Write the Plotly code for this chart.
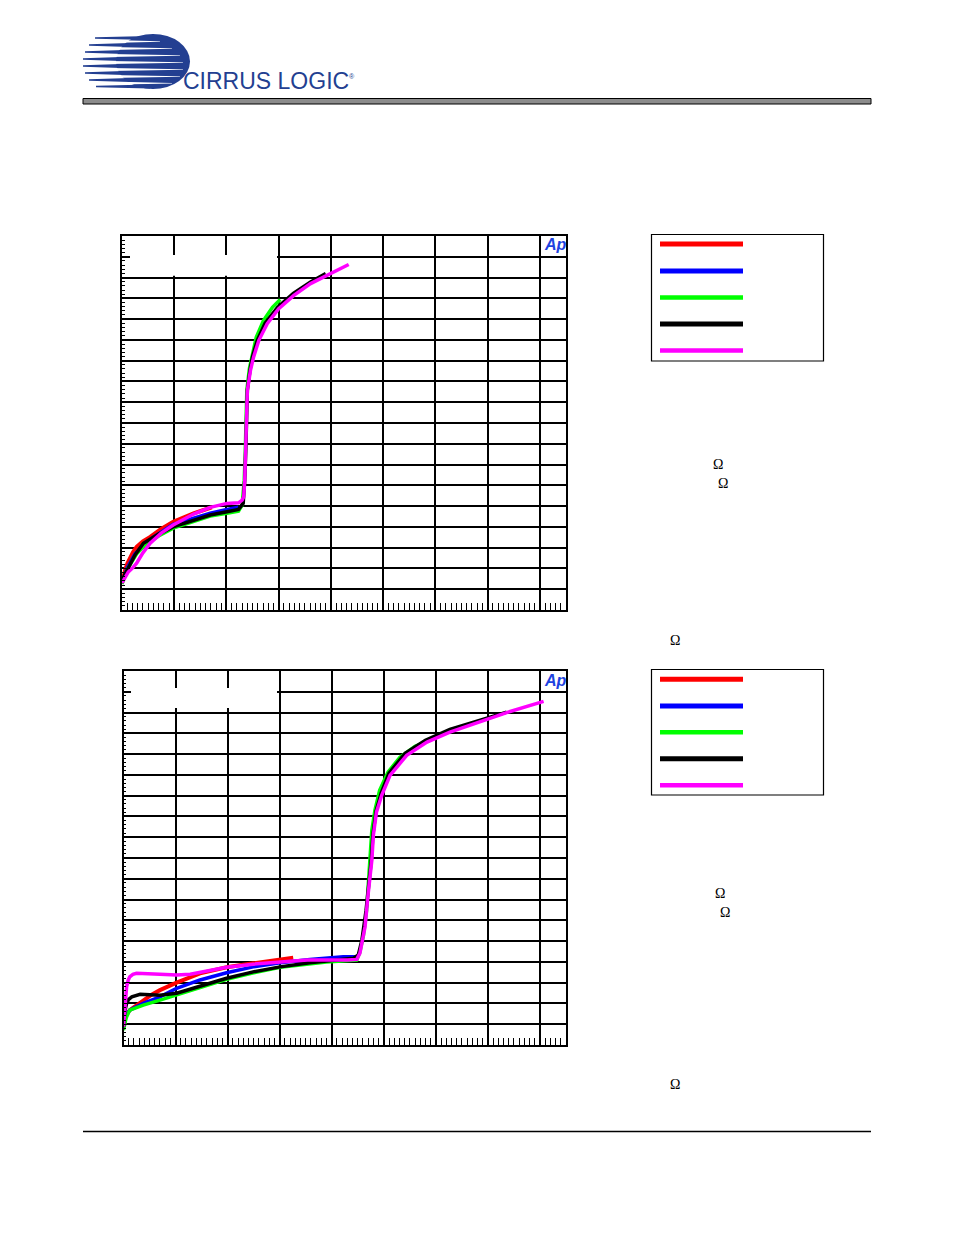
import plotly.graph_objects as go

W, H = 954, 1235

# ---------------- data (chart 1) ----------------
c1_red_x = [0, 0.03, 0.06, 0.1, 0.15, 0.21, 0.28, 0.4, 0.54, 0.75, 0.98, 1.17, 1.37, 1.55, 1.72]
c1_red_y = [1.28, 1.65, 1.92, 2.22, 2.5, 2.78, 3.04, 3.3, 3.52, 3.9, 4.25, 4.46, 4.65, 4.8, 4.94]

c1_blue_x = [0, 0.05, 0.1, 0.15, 0.25, 0.40, 0.6, 0.98, 1.35, 1.69, 2.01, 2.23]
c1_blue_y = [1.3, 1.75, 2.05, 2.26, 2.7, 3.08, 3.5, 4.12, 4.42, 4.66, 4.84, 4.95]

c1_green_x = [0, 0.05, 0.1, 0.15, 0.28, 0.44, 0.7, 0.98, 1.35, 1.69, 2.01, 2.23, 2.30, 2.34, 2.36, 2.38, 2.39, 2.44, 2.50, 2.57, 2.71, 2.88, 3.03]
c1_green_y = [1.25, 1.62, 1.95, 2.16, 2.7, 3.13, 3.56, 3.94, 4.26, 4.52, 4.65, 4.76, 5.05, 6.25, 7.69, 9.13, 10.58, 11.63, 12.4, 13.13, 13.94, 14.57, 14.94]

c1_black_x = [0, 0.05, 0.12, 0.25, 0.41, 0.7, 0.98, 1.35, 1.69, 2.01, 2.23, 2.32, 2.35, 2.37, 2.39, 2.40, 2.45, 2.50, 2.59, 2.74, 2.98, 3.28, 3.61, 3.90]
c1_black_y = [1.3, 1.7, 2.02, 2.65, 3.21, 3.65, 4.0, 4.3, 4.57, 4.73, 4.84, 5.13, 6.25, 7.69, 9.13, 10.58, 11.54, 12.21, 12.98, 13.8, 14.57, 15.24, 15.79, 16.19]

c1_mag_x = [0, 0.06, 0.12, 0.2, 0.28, 0.4, 0.54, 0.75, 0.98, 1.37, 1.69, 2.01, 2.23, 2.30, 2.33, 2.35, 2.37, 2.39, 2.40, 2.46, 2.52, 2.62, 2.78, 3.0, 3.29, 3.61, 3.93, 4.34]
c1_mag_y = [1.3, 1.58, 1.83, 2.02, 2.25, 2.75, 3.21, 3.7, 4.09, 4.62, 4.94, 5.13, 5.16, 5.29, 5.45, 6.25, 7.69, 9.13, 10.58, 11.54, 12.18, 12.98, 13.78, 14.5, 15.14, 15.71, 16.11, 16.63]

# ---------------- data (chart 2) ----------------
c2_red_x = [0, 0.05, 0.12, 0.25, 0.38, 0.54, 0.70, 1.02, 1.47, 1.98, 2.49, 2.94, 3.26]
c2_red_y = [0.88, 1.44, 1.68, 1.92, 2.16, 2.42, 2.64, 3.0, 3.45, 3.74, 3.93, 4.09, 4.2]

c2_blue_x = [0, 0.05, 0.12, 0.25, 0.38, 0.70, 1.02, 1.47, 1.98, 2.49, 3.01, 3.58, 4.22, 4.45]
c2_blue_y = [0.88, 1.44, 1.68, 1.85, 2.0, 2.32, 2.73, 3.13, 3.48, 3.76, 3.96, 4.12, 4.25, 4.25]

c2_green_x = [0, 0.05, 0.12, 0.38, 0.70, 1.02, 1.5, 1.98, 2.5, 3.01, 3.90, 4.48, 4.54, 4.61, 4.67, 4.71, 4.74, 4.77, 4.83, 4.92, 5.08, 5.31, 5.60, 5.88]
c2_green_y = [0.72, 1.3, 1.68, 1.92, 2.16, 2.40, 2.8, 3.16, 3.47, 3.74, 4.0, 4.09, 4.47, 5.29, 6.49, 7.93, 9.13, 10.34, 11.3, 12.26, 13.13, 13.85, 14.38, 14.66]

c2_black_x = [0, 0.03, 0.06, 0.1, 0.16, 0.32, 0.70, 1.02, 1.34, 1.98, 2.49, 3.01, 3.58, 4.10, 4.41, 4.51, 4.58, 4.66, 4.72, 4.76, 4.79, 4.85, 4.95, 5.10, 5.41, 5.80, 6.27, 6.85, 7.36]
c2_black_y = [0.88, 1.68, 2.0, 2.2, 2.32, 2.44, 2.40, 2.49, 2.73, 3.21, 3.52, 3.76, 3.96, 4.09, 4.17, 4.33, 5.05, 6.49, 7.93, 8.89, 10.1, 11.25, 12.12, 13.08, 14.04, 14.66, 15.19, 15.65, 16.02]

c2_mag_x = [0, 0.03, 0.06, 0.09, 0.12, 0.18, 0.25, 0.70, 1.02, 1.28, 1.66, 1.98, 2.49, 3.01, 3.53, 4.30, 4.48, 4.54, 4.64, 4.70, 4.77, 4.80, 4.86, 4.96, 5.12, 5.44, 5.83, 6.27, 6.85, 7.36, 8.07]
c2_mag_y = [0.88, 1.92, 2.80, 3.12, 3.28, 3.4, 3.45, 3.41, 3.37, 3.41, 3.61, 3.74, 3.89, 4.0, 4.09, 4.09, 4.12, 4.41, 5.69, 7.29, 8.89, 10.1, 11.22, 12.02, 12.98, 13.94, 14.58, 15.06, 15.54, 16.0, 16.54]

series_names = ["Series 1", "Series 2", "Series 3", "Series 4", "Series 5"]
series_colors = ["#ff0000", "#0000ff", "#00ff00", "#000000", "#ff00ff"]
x_range = [0, 8.5]
y_range = [0, 18]

def px(x):
    return x / W

def py(y):
    return 1 - y / H

fig = go.Figure()

chart1 = [(c1_red_x, c1_red_y), (c1_blue_x, c1_blue_y), (c1_green_x, c1_green_y),
          (c1_black_x, c1_black_y), (c1_mag_x, c1_mag_y)]
chart2 = [(c2_red_x, c2_red_y), (c2_blue_x, c2_blue_y), (c2_green_x, c2_green_y),
          (c2_black_x, c2_black_y), (c2_mag_x, c2_mag_y)]
widths = [4, 3.5, 3.5, 3.5, 3.5]

for i, (xs, ys) in enumerate(chart1):
    fig.add_trace(go.Scatter(x=xs, y=ys, mode="lines", name=series_names[i],
                             line=dict(color=series_colors[i], width=widths[i]),
                             xaxis="x", yaxis="y", showlegend=False))
for i, (xs, ys) in enumerate(chart2):
    fig.add_trace(go.Scatter(x=xs, y=ys, mode="lines", name=series_names[i],
                             line=dict(color=series_colors[i], width=widths[i]),
                             xaxis="x2", yaxis="y2", showlegend=False))

def xax(domain, anchor):
    return dict(domain=domain, anchor=anchor, range=x_range, dtick=1, tick0=0,
                showgrid=True, gridcolor="black", gridwidth=1.5, zeroline=False,
                showline=True, linecolor="black", linewidth=1.5, mirror=True,
                ticks="inside", ticklen=7, tickcolor="black", tickwidth=1,
                showticklabels=False, fixedrange=True,
                minor=dict(dtick=0.1, tick0=0, ticks="inside", ticklen=7,
                           tickcolor="black", tickwidth=1, showgrid=False))

def yax(domain, anchor):
    return dict(domain=domain, anchor=anchor, range=y_range, dtick=1, tick0=0,
                showgrid=True, gridcolor="black", gridwidth=1.5, zeroline=False,
                showline=True, linecolor="black", linewidth=1.5, mirror=True,
                ticks="inside", ticklen=8, tickcolor="black", tickwidth=1,
                showticklabels=False, fixedrange=True,
                minor=dict(dtick=0.2, tick0=0, ticks="inside", ticklen=3,
                           tickcolor="black", tickwidth=1, showgrid=False))

shapes = []
annotations = []

LOGO = "#233f91"
# header logo: globe disc
shapes.append(dict(type="circle", xref="paper", yref="paper",
                   x0=px(116), x1=px(190), y0=py(89), y1=py(34),
                   fillcolor=LOGO, line=dict(width=0)))
# white gaps across the globe (tapering toward the right)
gap_y = [41.5, 48.5, 55.5, 62.5, 69.5, 76.5, 83.2]
gap_right = [160, 172, 180, 183, 183, 180, 172]
for yc, xr in zip(gap_y, gap_right):
    shapes.append(dict(type="path", xref="paper", yref="paper",
                       path=f"M {px(110)},{py(yc-1.6)} L {px(xr)},{py(yc-0.3)} L {px(xr)},{py(yc+0.3)} L {px(110)},{py(yc+1.6)} Z",
                       fillcolor="white", line=dict(width=0)))
# left stripes
stripe_y = [38, 45, 52, 59, 66, 73, 80, 86.5]
stripe_left = [95, 89, 85, 83, 83, 85, 89, 96]
stripe_right = [150, 130, 124, 121, 121, 124, 130, 150]
for yc, xl, xr in zip(stripe_y, stripe_left, stripe_right):
    shapes.append(dict(type="path", xref="paper", yref="paper",
                       path=f"M {px(xl)},{py(yc-0.8)} L {px(xr)},{py(yc-1.9)} L {px(xr)},{py(yc+1.9)} L {px(xl)},{py(yc+0.8)} Z",
                       fillcolor=LOGO, line=dict(width=0)))
annotations.append(dict(text="CIRRUS LOGIC", xref="paper", yref="paper",
                        x=px(181), y=py(95.5), xanchor="left", yanchor="bottom",
                        showarrow=False,
                        font=dict(family="Liberation Sans", size=23, color=LOGO)))
annotations.append(dict(text="®", xref="paper", yref="paper",
                        x=px(347), y=py(76), xanchor="left", yanchor="middle",
                        showarrow=False, font=dict(family="Liberation Sans", size=7, color=LOGO)))

# grey header bar
shapes.append(dict(type="rect", xref="paper", yref="paper",
                   x0=px(83), x1=px(871), y0=py(104), y1=py(98.5),
                   fillcolor="#8c8c8c", line=dict(color="black", width=1)))
# bottom rule
shapes.append(dict(type="line", xref="paper", yref="paper",
                   x0=px(83), x1=px(871), y0=py(1131.5), y1=py(1131.5),
                   line=dict(color="black", width=1.5)))

# white label boxes in plot corners
shapes.append(dict(type="rect", xref="paper", yref="paper", layer="above",
                   x0=px(130), x1=px(277), y0=py(275.8), y1=py(255),
                   fillcolor="white", line=dict(width=0)))
shapes.append(dict(type="rect", xref="paper", yref="paper", layer="above",
                   x0=px(131), x1=px(277), y0=py(708), y1=py(688),
                   fillcolor="white", line=dict(width=0)))

# "Ap" marks
for yc in [244, 680]:
    annotations.append(dict(text="<b><i>Ap</i></b>", xref="paper", yref="paper",
                            x=px(555), y=py(yc), xanchor="center", yanchor="middle",
                            showarrow=False,
                            font=dict(family="Liberation Sans", size=16, color="#1d42e0")))

# legend boxes
legend_tops = [(234.5, 361, [244, 271, 297.5, 324, 350.5]),
               (669.5, 795, [679.3, 706, 732.3, 758.7, 785.3])]
for top, bot, ys in legend_tops:
    shapes.append(dict(type="rect", xref="paper", yref="paper",
                       x0=px(651.5), x1=px(823.5), y0=py(bot), y1=py(top),
                       fillcolor="rgba(0,0,0,0)", line=dict(color="black", width=1.2)))
    for yl, col, lw in zip(ys, series_colors, [5, 5, 4.5, 5, 4.5]):
        shapes.append(dict(type="line", xref="paper", yref="paper",
                           x0=px(660), x1=px(743), y0=py(yl), y1=py(yl),
                           line=dict(color=col, width=lw)))

# Omega symbols
for (x, y) in [(718, 464), (723, 483), (675, 640), (720, 893), (725, 912), (675, 1084)]:
    annotations.append(dict(text="Ω", xref="paper", yref="paper", x=px(x), y=py(y),
                            xanchor="center", yanchor="middle", showarrow=False,
                            font=dict(family="Liberation Serif", size=14, color="black")))

fig.update_layout(
    width=W, height=H, margin=dict(l=0, r=0, t=0, b=0),
    paper_bgcolor="white", plot_bgcolor="white",
    showlegend=False,
    xaxis=xax([px(122), px(566)], "y"),
    yaxis=yax([py(610), py(236)], "x"),
    xaxis2=xax([px(123.5), px(566)], "y2"),
    yaxis2=yax([py(1045), py(671)], "x2"),
    shapes=shapes, annotations=annotations,
)

fig.write_html("out.html", config={"displayModeBar": False},
               post_script="document.body.style.margin='0';")
